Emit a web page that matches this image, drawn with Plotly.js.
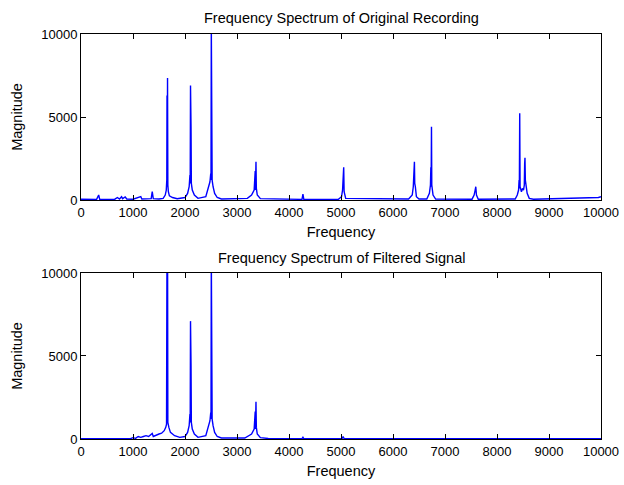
<!DOCTYPE html>
<html>
<head>
<meta charset="utf-8">
<script src="https://cdn.plot.ly/plotly-3.0.1.min.js"></script>
<style>html,body{margin:0;padding:0;background:#fff;}#chart{width:624px;height:485px;}</style>
</head>
<body>
<div id="chart"></div>
<script>
// Original recording spectrum (frequency in Hz, magnitude)
var origFreq = [0, 300, 340, 360, 650, 700, 740, 780, 800, 850, 880, 1000, 1150, 1170, 1350, 1370, 1390, 1500, 1580, 1620, 1640, 1650, 1654, 1658, 1664, 1670, 1680, 1700, 1760, 1850, 2000, 2050, 2080, 2095, 2100, 2106, 2110, 2116, 2122, 2140, 2180, 2250, 2400, 2450, 2480, 2495, 2500, 2506, 2510, 2516, 2522, 2540, 2570, 2620, 2700, 3200, 3280, 3330, 3350, 3355, 3365, 3372, 3390, 3450, 4250, 4268, 4285, 4950, 5010, 5030, 5040, 5045, 5052, 5060, 5090, 6300, 6370, 6390, 6400, 6405, 6412, 6418, 6430, 6450, 6500, 6650, 6700, 6720, 6728, 6733, 6740, 6746, 6770, 6820, 7520, 7560, 7580, 7592, 7605, 7640, 8350, 8390, 8415, 8425, 8430, 8437, 8444, 8470, 8490, 8510, 8525, 8532, 8538, 8545, 8560, 8580, 8620, 8700, 9950, 10000];
var origMag  = [50, 40, 300, 40, 50, 150, 60, 200, 80, 180, 60, 50, 200, 60, 80, 500, 80, 60, 100, 300, 600, 1200, 6300, 800, 7350, 900, 500, 250, 150, 80, 150, 400, 800, 1500, 1000, 6900, 1200, 4400, 1000, 600, 300, 100, 200, 700, 1100, 1600, 1200, 10500, 1500, 6400, 1200, 800, 400, 150, 60, 100, 300, 600, 1750, 600, 2300, 700, 300, 80, 40, 360, 40, 50, 200, 600, 1400, 800, 1970, 500, 100, 60, 300, 800, 1500, 900, 2300, 1000, 800, 200, 60, 60, 400, 900, 1970, 800, 4420, 900, 300, 60, 50, 300, 600, 800, 300, 50, 60, 300, 600, 1200, 700, 5220, 800, 500, 700, 600, 900, 2200, 2550, 1200, 800, 400, 100, 50, 150, 200];

// Filtered signal spectrum
var filtFreq = [0, 950, 1000, 1050, 1100, 1150, 1200, 1250, 1300, 1370, 1390, 1450, 1500, 1550, 1600, 1630, 1645, 1654, 1659, 1664, 1670, 1690, 1720, 1800, 1900, 2000, 2050, 2080, 2095, 2100, 2106, 2111, 2116, 2122, 2140, 2180, 2250, 2400, 2450, 2480, 2495, 2500, 2506, 2511, 2516, 2522, 2540, 2570, 2620, 2700, 3150, 3200, 3280, 3330, 3350, 3355, 3365, 3372, 3390, 3450, 3600, 4250, 4268, 4285, 5020, 5040, 5060, 10000];
var filtMag  = [20, 20, 80, 40, 150, 100, 150, 200, 150, 340, 150, 250, 300, 350, 500, 700, 900, 12000, 1000, 13000, 1000, 700, 400, 200, 100, 150, 400, 800, 1500, 1000, 7100, 1200, 4450, 1000, 600, 300, 100, 200, 700, 1100, 1600, 1200, 11000, 1500, 6300, 1200, 800, 400, 150, 60, 60, 150, 300, 600, 1650, 600, 2250, 700, 300, 80, 30, 20, 100, 20, 20, 150, 20, 20];

var titles = ['Frequency Spectrum of Original Recording', 'Frequency Spectrum of Filtered Signal'];
var xLabel = 'Frequency';
var yLabel = 'Magnitude';

var font = 'Liberation Sans, Arial, sans-serif';
var lineStyle = {color: 'rgb(0,0,255)', width: 1.4};

var traces = [
  {x: origFreq, y: origMag, type: 'scatter', mode: 'lines', line: lineStyle, xaxis: 'x', yaxis: 'y', hoverinfo: 'skip'},
  {x: filtFreq, y: filtMag, type: 'scatter', mode: 'lines', line: lineStyle, xaxis: 'x2', yaxis: 'y2', hoverinfo: 'skip'}
];

function xax(anchor) {
  return {
    anchor: anchor, range: [0, 10000], dtick: 1000, tick0: 0,
    exponentformat: 'none', separatethousands: false, tickformat: 'd',
    showgrid: false, zeroline: false, showline: true, linecolor: '#000', linewidth: 1,
    mirror: 'allticks', ticks: 'inside', ticklen: 5, tickcolor: '#000',
    tickfont: {family: font, size: 13, color: '#000'},
    title: {text: xLabel, font: {family: font, size: 14.5, color: '#000'}, standoff: 8}
  };
}
function yax(anchor, domain) {
  return {
    anchor: anchor, domain: domain, range: [0, 10000], dtick: 5000, tick0: 0,
    exponentformat: 'none', separatethousands: false, tickformat: 'd',
    showgrid: false, zeroline: false, showline: true, linecolor: '#000', linewidth: 1,
    mirror: 'allticks', ticks: 'inside', ticklen: 5, tickcolor: '#000',
    tickfont: {family: font, size: 13, color: '#000'},
    title: {text: yLabel, font: {family: font, size: 14.5, color: '#000'}, standoff: 15}
  };
}

var layout = {
  width: 624, height: 485,
  paper_bgcolor: '#fff', plot_bgcolor: '#fff',
  showlegend: false,
  margin: {l: 81, r: 23, t: 34, b: 46},
  xaxis: xax('y'),
  yaxis: yax('x', [0.5901, 1]),
  xaxis2: xax('y2'),
  yaxis2: yax('x2', [0, 0.4099]),
  annotations: [
    {text: titles[0], xref: 'paper', yref: 'paper', x: 0.5, y: 1, yanchor: 'bottom', yshift: 6, showarrow: false, font: {family: font, size: 14.5, color: '#000'}},
    {text: titles[1], xref: 'paper', yref: 'paper', x: 0.5, y: 0.4099, yanchor: 'bottom', yshift: 5, showarrow: false, font: {family: font, size: 14.5, color: '#000'}}
  ]
};

Plotly.newPlot('chart', traces, layout, {staticPlot: true, displayModeBar: false});
</script>
</body>
</html>
